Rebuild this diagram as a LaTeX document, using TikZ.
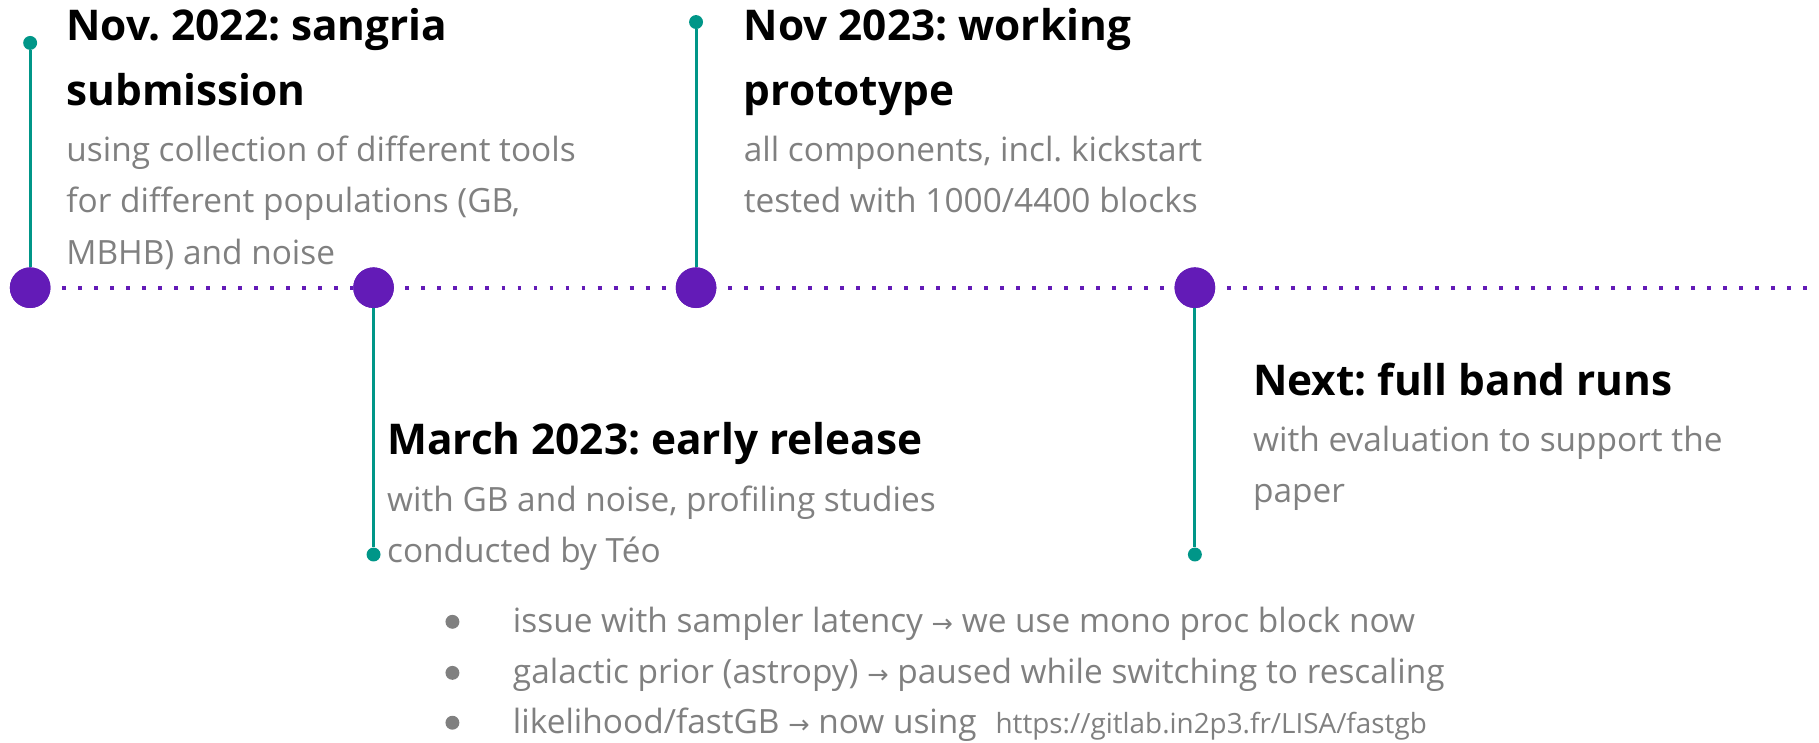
\documentclass[tikz,border=0pt]{standalone}
\usepackage{fontspec}
\setmainfont{Open Sans}
\newfontfamily\arrowfont{DejaVu Sans}
\frenchspacing
\definecolor{milepurple}{HTML}{631BB7}
\definecolor{stemteal}{HTML}{009688}
\definecolor{softgray}{HTML}{808080}
\newcommand{\ar}{{\arrowfont\fontsize{22}{22}\selectfont →}}
\begin{document}
\begin{tikzpicture}[x=1pt,y=-1pt,
  milestone/.style={circle,fill=milepurple,minimum size=35pt,inner sep=0pt},
  stemend/.style={circle,fill=stemteal,minimum size=12pt,inner sep=0pt},
  stem/.style={stemteal,line width=2.6pt},
  timeline/.style={milepurple,line width=3.4pt,dash pattern=on 3.4pt off 10.4pt,dash phase=4pt},
  heading/.style={anchor=base west,inner sep=0pt,text=black,
    font=\bfseries\fontsize{36.5}{36.5}\selectfont},
  detail/.style={anchor=base west,inner sep=0pt,text=softgray,
    font=\fontsize{28.8}{28.8}\selectfont},
  bulletdot/.style={circle,fill=softgray,minimum size=12pt,inner sep=0pt},
  bullettext/.style={detail}]
\useasboundingbox (0,0) rectangle (1568,640);

% milestones on the time axis
\node[milestone] (m1) at (26,248) {};
\node[milestone] (m2) at (322,248) {};
\node[milestone] (m3) at (600,248) {};
\node[milestone] (m4) at (1030,248) {};
\coordinate (axisend) at (1568,248);

% stem ends
\node[stemend] (s1) at (26,37) {};
\node[stemend] (s2) at (322,478) {};
\node[stemend] (s3) at (600,19) {};
\node[stemend] (s4) at (1030,478) {};

\draw[timeline] (m1) -- (m2);
\draw[timeline] (m2) -- (m3);
\draw[timeline] (m3) -- (m4);
\draw[timeline] (m4) -- (axisend);
\draw[stem] (m1) -- (s1);
\draw[stem] (m2) -- (s2);
\draw[stem] (m3) -- (s3);
\draw[stem] (m4) -- (s4);

% milestones again, above the lines
\node[milestone] at (m1) {};
\node[milestone] at (m2) {};
\node[milestone] at (m3) {};
\node[milestone] at (m4) {};

% Nov. 2022
\node[heading] (h1a) at (57,34.5) {Nov. 2022: sangria};
\node[heading] (h1b) at (57,91) {submission};
\node[detail] (d1a) at (57,139) {using collection of different tools};
\node[detail] (d1b) at (57,183.5) {for different populations (GB,};
\node[detail] (d1c) at (57,228) {MBHB) and noise};

% Nov 2023
\node[heading] (h3a) at (641,34.5) {Nov 2023: working};
\node[heading] (h3b) at (641,91) {prototype};
\node[detail] (d3a) at (641,139) {all components, incl. kickstart};
\node[detail] (d3b) at (641,183.5) {tested with 1000/4400 blocks};

% March 2023
\node[heading] (h2a) at (333.5,392) {March 2023: early release};
\node[detail] (d2a) at (333.5,440.5) {with GB and noise, profiling studies};
\node[detail] (d2b) at (333.5,485) {conducted by Téo};

% Next
\node[heading] (h4a) at (1080,340.5) {Next: full band runs};
\node[detail] (d4a) at (1080,389.5) {with evaluation to support the};
\node[detail] (d4b) at (1080,433.5) {paper};

% status list
\node[bulletdot] (b1) at (390,536) {};
\node[bulletdot] (b2) at (390,580) {};
\node[bulletdot] (b3) at (390,623) {};
\node[bullettext] (l1) at (442,545) {issue with sampler latency \ar{} we use mono proc block now};
\node[bullettext] (l2) at (442,589) {galactic prior (astropy) \ar{} paused while switching to rescaling};
\node[bullettext] (l3) at (442,632) {likelihood/fastGB \ar{} now using};
\node[anchor=base west,inner sep=0pt,text=softgray,font=\fontsize{24}{24}\selectfont] (url) at (858,632) {https://gitlab.in2p3.fr/LISA/fastgb};
\end{tikzpicture}
\end{document}
